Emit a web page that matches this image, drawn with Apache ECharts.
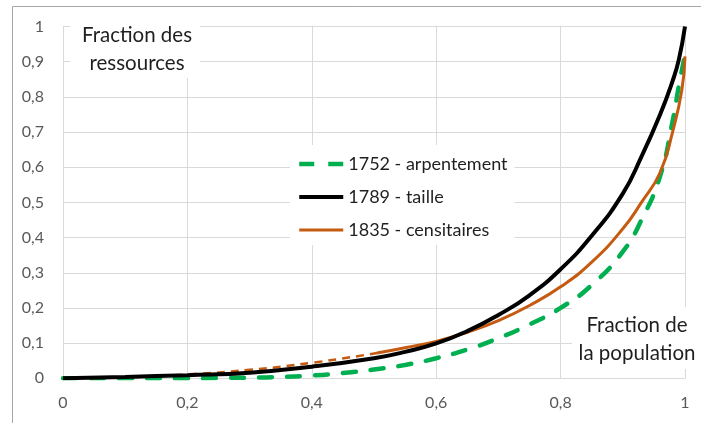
<!DOCTYPE html>
<html>
<head>
<meta charset="utf-8">
<script src="https://cdn.jsdelivr.net/npm/echarts@6/dist/echarts.min.js"></script>
<style>
  html, body { margin: 0; padding: 0; background: #fff; }
  #chart { width: 701px; height: 423px; }
</style>
</head>
<body>
<div id="chart"></div>
<script>
// Lorenz curves: cumulative share of the population vs. cumulative share of resources
const seriesNames = ['1752 - arpentement', '1789 - taille', '1835 - censitaires'];

// 1752 - arpentement
const popShare1752 = [0, 0.1, 0.2, 0.25, 0.3, 0.35, 0.4, 0.45, 0.5, 0.55, 0.6, 0.65, 0.7, 0.75, 0.8, 0.85, 0.9, 0.93, 0.96, 0.98, 0.99, 1];
const resShare1752 = [0, 0, 0, 0.001, 0.002, 0.004, 0.008, 0.015, 0.025, 0.038, 0.057, 0.082, 0.114, 0.153, 0.2, 0.265, 0.36, 0.45, 0.575, 0.73, 0.83, 0.92];

// 1789 - taille
const popShare1789 = [0, 0.1, 0.2, 0.3, 0.4, 0.5, 0.55, 0.6, 0.65, 0.7, 0.75, 0.8, 0.85, 0.9, 0.93, 0.96, 0.98, 0.99, 1];
const resShare1789 = [0, 0.004, 0.009, 0.016, 0.033, 0.057, 0.075, 0.099, 0.134, 0.18, 0.236, 0.31, 0.405, 0.525, 0.63, 0.75, 0.845, 0.905, 1.0];

// 1835 - censitaires: estimated lower part (dotted) and observed part (solid)
const popShare1835Est = [0, 0.1, 0.2, 0.3, 0.4, 0.505];
const resShare1835Est = [0, 0.003, 0.011, 0.024, 0.044, 0.072];
const popShare1835 = [0.505, 0.55, 0.6, 0.65, 0.7, 0.75, 0.8, 0.85, 0.9, 0.93, 0.96, 0.98, 0.995, 1];
const resShare1835 = [0.072, 0.087, 0.105, 0.131, 0.164, 0.207, 0.26, 0.33, 0.425, 0.50, 0.585, 0.70, 0.82, 0.915];

// Axis ticks
const xTickStep = 0.2;
const yTickStep = 0.1;

const pairs = (xs, ys) => xs.map((x, i) => [x, ys[i]]);
const frNum = v => String(Number(v.toFixed(1))).replace('.', ',');

const GREEN = '#00B050';
const BLACK = '#000000';
const ORANGE = '#C55A11';
const FONT = 'Lato, "Liberation Sans", sans-serif';
const TEXT = '#1f1f1f';

const chart = echarts.init(document.getElementById('chart'), null, { renderer: 'canvas' });

chart.setOption({
  animation: false,
  backgroundColor: '#ffffff',
  textStyle: { fontFamily: FONT },
  grid: { left: 63, right: 16, top: 26.5, bottom: 44.7, containLabel: false },
  xAxis: {
    type: 'value', min: 0, max: 1, interval: xTickStep,
    axisLine: { show: true, lineStyle: { color: '#d9d9d9', width: 1 } },
    axisTick: { show: false },
    splitLine: { show: true, lineStyle: { color: '#d9d9d9', width: 1 } },
    axisLabel: { formatter: frNum, color: '#595959', fontSize: 16, fontFamily: FONT, margin: 17 }
  },
  yAxis: {
    type: 'value', min: 0, max: 1, interval: yTickStep,
    axisLine: { show: true, lineStyle: { color: '#d9d9d9', width: 1 } },
    axisTick: { show: false },
    splitLine: { show: true, lineStyle: { color: '#d9d9d9', width: 1 } },
    axisLabel: { formatter: frNum, color: '#595959', fontSize: 16, fontFamily: FONT, margin: 19 }
  },
  legend: {
    show: true,
    orient: 'vertical',
    left: 290, top: 145,
    backgroundColor: '#ffffff',
    padding: [10, 7, 6, 7],
    itemWidth: 44, itemHeight: 14, itemGap: 15,
    itemStyle: { opacity: 0, borderWidth: 0 },
    textStyle: { color: TEXT, fontSize: 18, fontFamily: FONT },
    data: [
      { name: seriesNames[0], lineStyle: { color: GREEN, width: 4.5, type: [15, 14], cap: 'butt' } },
      { name: seriesNames[1], lineStyle: { color: BLACK, width: 4 } },
      { name: seriesNames[2], lineStyle: { color: ORANGE, width: 3 } }
    ],
    z: 10
  },
  series: [
    {
      name: seriesNames[0], type: 'line', data: pairs(popShare1752, resShare1752),
      smooth: 0.5, showSymbol: false, symbol: 'none',
      lineStyle: { color: GREEN, width: 4.5, type: [13, 15], cap: 'round' },
      itemStyle: { color: GREEN }, z: 2
    },
    {
      name: '1835 (estim.)', type: 'line', data: pairs(popShare1835Est, resShare1835Est),
      smooth: 0.5, showSymbol: false, symbol: 'none',
      lineStyle: { color: ORANGE, width: 2.5, type: [8, 6] },
      itemStyle: { color: ORANGE }, z: 3
    },
    {
      name: seriesNames[2], type: 'line', data: pairs(popShare1835, resShare1835),
      smooth: 0.5, showSymbol: false, symbol: 'none',
      lineStyle: { color: ORANGE, width: 3 },
      itemStyle: { color: ORANGE }, z: 3
    },
    {
      name: seriesNames[1], type: 'line', data: pairs(popShare1789, resShare1789),
      smooth: 0.5, showSymbol: false, symbol: 'none',
      lineStyle: { color: BLACK, width: 4 },
      itemStyle: { color: BLACK }, z: 4
    }
  ],
  graphic: [
    // chart area frame
    { type: 'rect', shape: { x: 12.5, y: 6.5, width: 720, height: 440 },
      style: { fill: 'none', stroke: '#a6a6a6', lineWidth: 1 }, silent: true, z: 0 },
    // y-axis title box
    { type: 'rect', shape: { x: 70, y: 15, width: 130, height: 63 },
      style: { fill: '#ffffff' }, silent: true, z: 10 },
    { type: 'text', x: 137, y: 49, z: 11, silent: true,
      style: { text: 'Fraction des\nressources', fill: TEXT, font: '20.5px ' + FONT,
               textAlign: 'center', textVerticalAlign: 'middle', lineHeight: 28 } },
    // x-axis title box
    { type: 'rect', shape: { x: 572, y: 307, width: 130, height: 62 },
      style: { fill: '#ffffff' }, silent: true, z: 10 },
    { type: 'text', x: 637, y: 339, z: 11, silent: true,
      style: { text: 'Fraction de\nla population', fill: TEXT, font: '20.5px ' + FONT,
               textAlign: 'center', textVerticalAlign: 'middle', lineHeight: 28 } }
  ]
});
</script>
</body>
</html>
